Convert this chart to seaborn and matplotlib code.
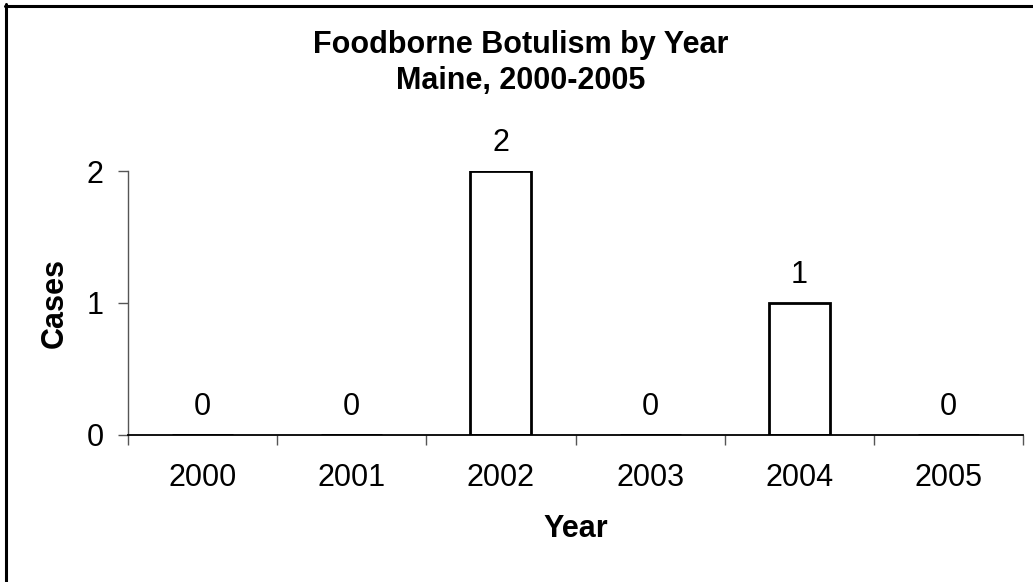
import matplotlib
matplotlib.use("Agg")
import matplotlib.pyplot as plt
from matplotlib.lines import Line2D
import seaborn as sns
import pandas as pd

years = ["2000", "2001", "2002", "2003", "2004", "2005"]
cases = [0, 0, 2, 0, 1, 0]
y_ticks = [0, 1, 2]
title_line1 = "Foodborne Botulism by Year"
title_line2 = "Maine, 2000-2005"

sns.set_theme(style="white")
plt.rcParams['font.family'] = ['Liberation Sans', 'DejaVu Sans']
plt.rcParams['text.color'] = 'black'
plt.rcParams['axes.labelcolor'] = 'black'

df = pd.DataFrame({"Year": years, "Cases": cases})

W, H = 1033, 582
fig = plt.figure(figsize=(W / 100, H / 100), dpi=100)
ax = fig.add_axes([128 / W, 1 - 435 / H, (1023 - 128) / W, (435 - 171) / H])

sns.barplot(data=df, x="Year", y="Cases", ax=ax, color="white",
            edgecolor="black", linewidth=2, width=0.41, saturation=1)

ax.set_xlim(-0.5, len(years) - 0.5)
ax.set_ylim(0, 2)
ax.set_yticks(y_ticks)
ax.set_yticklabels([str(t) for t in y_ticks])

fs = 22
# category boundary ticks
ax.set_xticks([i - 0.5 for i in range(len(years) + 1)], minor=True)
ax.tick_params(axis="x", which="minor", length=7.5, width=1, color="#555555",
               direction="out", bottom=True)
ax.tick_params(axis="x", which="major", length=0, pad=20.5, labelsize=fs,
               labelcolor="black")
ax.tick_params(axis="y", which="major", length=7.5, width=1, color="#555555",
               direction="out", left=True, pad=10, labelsize=fs, labelcolor="black")

for s in ["top", "right"]:
    ax.spines[s].set_visible(False)
ax.spines["left"].set_color("#555555")
ax.spines["left"].set_linewidth(1)
ax.spines["bottom"].set_color("black")
ax.spines["bottom"].set_linewidth(1.3)

ax.set_xlabel("Year", fontsize=fs, fontweight="bold", labelpad=15)
ax.set_ylabel("Cases", fontsize=fs, fontweight="bold", labelpad=12)

for i, v in enumerate(cases):
    ax.annotate(str(v), (i, v), xytext=(0, 14.5), textcoords="offset points",
                ha="center", va="baseline", fontsize=fs, annotation_clip=False)

fig.text(521 / W, 1 - 53 / H, title_line1, ha="center", va="baseline",
         fontsize=fs, fontweight="bold")
fig.text(521 / W, 1 - 89 / H, title_line2, ha="center", va="baseline",
         fontsize=fs, fontweight="bold")

# outer frame (top and left edges)
fig.add_artist(Line2D([5 / W, 1], [1 - 5.5 / H, 1 - 5.5 / H], color="black",
                      linewidth=2.2, transform=fig.transFigure))
fig.add_artist(Line2D([6 / W, 6 / W], [0, 1 - 4 / H], color="black",
                      linewidth=2.2, transform=fig.transFigure))

fig.savefig("out.png", dpi=100)
